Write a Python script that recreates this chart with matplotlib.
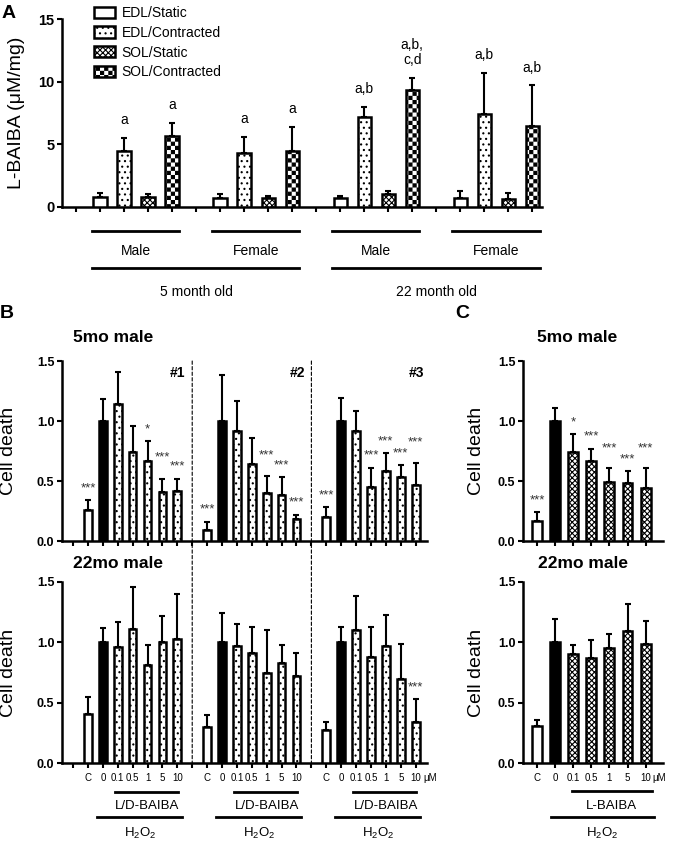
import numpy as np
import matplotlib
matplotlib.use("Agg")
import matplotlib.pyplot as plt
import matplotlib.hatch as mhatch
from matplotlib.path import Path
from matplotlib.patches import Patch, ConnectionPatch

# ---------------- data ----------------
# Panel A: L-BAIBA (uM/mg); groups = 5mo male, 5mo female, 22mo male, 22mo female
a_sexes = ["Male", "Female", "Male", "Female"]
a_ages = ["5 month old", "22 month old"]
a_series = ["EDL/Static", "EDL/Contracted", "SOL/Static", "SOL/Contracted"]
edl_static = [0.8, 0.7, 0.7, 0.7]
edl_static_err = [0.35, 0.3, 0.15, 0.6]
edl_contr = [4.5, 4.3, 7.2, 7.4]
edl_contr_err = [1.0, 1.3, 0.8, 3.3]
sol_static = [0.8, 0.7, 1.0, 0.6]
sol_static_err = [0.2, 0.2, 0.25, 0.5]
sol_contr = [5.7, 4.5, 9.3, 6.5]
sol_contr_err = [1.0, 1.9, 1.0, 3.2]
edl_contr_sig = ["a", "a", "a,b", "a,b"]
sol_contr_sig = ["a", "a", "a,b,\nc,d", "a,b"]

# Panels B and C: cell death
doses = ["C", "0", "0.1", "0.5", "1", "5", "10"]

# B, 5mo male, experiments #1-#3
young_exp1 = [0.26, 1.0, 1.14, 0.74, 0.67, 0.41, 0.42]
young_exp1_err = [0.08, 0.18, 0.27, 0.22, 0.16, 0.11, 0.10]
young_exp1_sig = ["***", "", "", "", "*", "***", "***"]
young_exp2 = [0.09, 1.0, 0.92, 0.64, 0.40, 0.38, 0.18]
young_exp2_err = [0.07, 0.38, 0.25, 0.22, 0.14, 0.15, 0.04]
young_exp2_sig = ["***", "", "", "", "***", "***", "***"]
young_exp3 = [0.20, 1.0, 0.92, 0.45, 0.58, 0.53, 0.47]
young_exp3_err = [0.08, 0.19, 0.16, 0.16, 0.15, 0.10, 0.18]
young_exp3_sig = ["***", "", "", "***", "***", "***", "***"]

# B, 22mo male, experiments #1-#3
old_exp1 = [0.41, 1.0, 0.96, 1.11, 0.81, 1.0, 1.03]
old_exp1_err = [0.14, 0.12, 0.21, 0.35, 0.17, 0.22, 0.37]
old_exp2 = [0.30, 1.0, 0.97, 0.91, 0.75, 0.83, 0.72]
old_exp2_err = [0.10, 0.24, 0.18, 0.22, 0.35, 0.15, 0.19]
old_exp3 = [0.27, 1.0, 1.10, 0.88, 0.97, 0.70, 0.34]
old_exp3_err = [0.07, 0.13, 0.28, 0.25, 0.26, 0.29, 0.19]
old_exp3_sig = ["", "", "", "", "", "", "***"]

# C, L-BAIBA only
c_young = [0.17, 1.0, 0.74, 0.67, 0.49, 0.48, 0.44]
c_young_err = [0.07, 0.11, 0.15, 0.10, 0.12, 0.10, 0.17]
c_young_sig = ["***", "", "*", "***", "***", "***", "***"]
c_old = [0.31, 1.0, 0.90, 0.87, 0.95, 1.09, 0.99]
c_old_err = [0.05, 0.19, 0.08, 0.15, 0.12, 0.23, 0.19]

# which star labels are lifted a little so neighbours don't collide
stagger_exp1 = [0, 0, 0, 0, 0, 1, 0]
stagger_exp2 = [0, 0, 0, 0, 1, 0, 0]
stagger_exp3 = [0, 0, 0, 0, 0, 0, 1]
stagger_c = [0, 0, 0, 0, 1, 0, 1]
no_stagger = [0] * 7


# checkerboard fill, used in place of the 'O' (large circle) hatch
class CheckerHatch(mhatch.HatchPatternBase):
    def __init__(self, hatch, density):
        n = hatch.count("O") * density
        self.n = n - n % 2
        self.num_vertices = (self.n * self.n // 2) * 5

    def set_vertices_and_codes(self, vertices, codes):
        n = self.n
        s = 1.0 / n
        d = 0.13 * s
        sq = np.array([[d, d], [s - d, d], [s - d, s - d], [d, s - d], [d, d]])
        cells = [(i, j) for i in range(n) for j in range(n) if (i + j) % 2 == 0]
        vertices[:] = np.concatenate([sq + [i * s, j * s] for i, j in cells])
        codes[:] = np.tile([Path.MOVETO, Path.LINETO, Path.LINETO,
                            Path.LINETO, Path.CLOSEPOLY], len(cells))


mhatch._hatch_types = [CheckerHatch if t is mhatch.LargeCircles else t
                       for t in mhatch._hatch_types]

plt.rcParams["font.family"] = ["Liberation Sans", "DejaVu Sans"]
plt.rcParams["mathtext.fontset"] = "custom"
plt.rcParams["mathtext.rm"] = "Liberation Sans"
plt.rcParams["hatch.linewidth"] = 0.8

W, H = 673, 842
fig = plt.figure(figsize=(W / 100, H / 100), dpi=100)
fig.patch.set_facecolor("white")

DOTS = "..."
CROSS = "xxxxxx"
CHECK = "OOOO"


def add_ax(left, top, right, bottom):
    # axes box given in pixels of the final picture
    return fig.add_axes([left / W, 1 - bottom / H, (right - left) / W, (bottom - top) / H])


def style_ax(ax, xlim, yticks, fmt, nticks, ysize):
    for s in ["top", "right"]:
        ax.spines[s].set_visible(False)
    for s in ["left", "bottom"]:
        ax.spines[s].set_linewidth(1.8)
    ax.set_xlim(*xlim)
    ax.set_ylim(yticks[0], yticks[-1])
    ax.set_yticks(yticks, labels=[fmt % t for t in yticks], fontweight="bold", fontsize=ysize)
    ax.set_xticks(np.arange(nticks), labels=[""] * nticks)
    ax.tick_params(width=1.5, length=3.5)
    ax.tick_params(axis="y", pad=2)
    ax.set_facecolor("none")


def draw_bars(ax, x, means, errs, hatches, colors, width):
    for xi, m, h, c in zip(x, means, hatches, colors):
        ax.bar(xi, m, width, color=c, edgecolor="black", linewidth=1.8, hatch=h, zorder=3)
    ax.errorbar(x, means, yerr=[np.zeros(len(errs)), errs], fmt="none", ecolor="black",
                elinewidth=1.5, capsize=2.5, capthick=1.5, zorder=2)


def draw_stars(ax, x, means, errs, sigs, stagger, gap, lift):
    for xi, m, e, s, st in zip(x, means, errs, sigs, stagger):
        if s:
            yc = m + e + gap + lift * st
            ax.text(xi, yc, s, ha="center", va="center", fontsize=9.5, color="#333333",
                    clip_on=False, zorder=5)


# ---------------- Panel A ----------------
axA = add_ax(62, 19, 542, 207)
style_ax(axA, (-0.58, 19.4), [0, 5, 10, 15], "%d", 20, 10.5)

a_means = [edl_static, edl_contr, sol_static, sol_contr]
a_errs = [edl_static_err, edl_contr_err, sol_static_err, sol_contr_err]
a_hatch = ["", DOTS, CROSS, CHECK]
for k in range(4):
    x = np.arange(4) * 5 + 1 + k
    draw_bars(axA, x, a_means[k], a_errs[k], [a_hatch[k]] * 4, ["white"] * 4, 0.55)

for k, labels in [(1, edl_contr_sig), (3, sol_contr_sig)]:
    x = np.arange(4) * 5 + 1 + k
    for xi, m, e, lab in zip(x, a_means[k], a_errs[k], labels):
        axA.text(xi, m + e + 0.85, lab, ha="center", va="bottom", fontsize=10,
                 linespacing=1.15, clip_on=False)

handles = [Patch(facecolor="white", edgecolor="black", linewidth=1.8, hatch=h, label=l)
           for h, l in zip(a_hatch, a_series)]
axA.legend(handles=handles, loc="upper left", bbox_to_anchor=(94 / W, 1 - 6 / H),
           bbox_transform=fig.transFigure, frameon=False, fontsize=10, borderpad=0,
           borderaxespad=0, handlelength=1.5, handleheight=0.85, handletextpad=0.5,
           labelspacing=0.42)

trA = axA.get_xaxis_transform()
for g, sex in enumerate(a_sexes):
    xs = 5 * g + 1 + np.arange(4)
    axA.plot([xs[0] - 0.33, xs[-1] + 0.3], [-0.128, -0.128], transform=trA,
             clip_on=False, color="black", lw=2)
    axA.text(xs.mean(), -0.234, sex, transform=trA, ha="center", va="center", fontsize=10)
for a, age in enumerate(a_ages):
    xs = 10 * a + 1 + np.arange(9)
    axA.plot([xs[0] - 0.33, xs[-1] + 0.3], [-0.324, -0.324], transform=trA,
             clip_on=False, color="black", lw=2)
    axA.text(xs.mean(), -0.452, age, transform=trA, ha="center", va="center", fontsize=10)

axA.set_ylabel("L-BAIBA (\u03bcM/mg)", fontsize=14)
axA.yaxis.set_label_coords(-0.077, 0.5)

# ---------------- Panel B ----------------
b_colors = ["white", "black"] + ["white"] * 5
b_hatch = ["", ""] + [DOTS] * 5
axBt = add_ax(62, 361, 427, 541)
axBb = add_ax(62, 582, 427, 763)
for ax in (axBt, axBb):
    style_ax(ax, (-0.74, 23.76), [0.0, 0.5, 1.0, 1.5], "%.1f", 24, 9)
    ax.set_ylabel("Cell death", fontsize=14)
    ax.yaxis.set_label_coords(-0.123, 0.5)

young = [(young_exp1, young_exp1_err, young_exp1_sig, stagger_exp1),
         (young_exp2, young_exp2_err, young_exp2_sig, stagger_exp2),
         (young_exp3, young_exp3_err, young_exp3_sig, stagger_exp3)]
old = [(old_exp1, old_exp1_err, [""] * 7, no_stagger),
       (old_exp2, old_exp2_err, [""] * 7, no_stagger),
       (old_exp3, old_exp3_err, old_exp3_sig, no_stagger)]
for ax, rows in [(axBt, young), (axBb, old)]:
    for s, (m, e, sig, st) in enumerate(rows):
        x = 8 * s + 1 + np.arange(7)
        draw_bars(ax, x, m, e, b_hatch, b_colors, 0.52)
        draw_stars(ax, x, m, e, sig, st, 0.1, 0.075)

for s in range(3):
    axBt.text(8 * s + 7.55, 1.40, "#%d" % (s + 1), ha="right", va="center",
              fontsize=10, fontweight="bold")
for s in (1, 2):
    con = ConnectionPatch(xyA=(8 * s, 1.5), coordsA=axBt.transData,
                          xyB=(8 * s, 0), coordsB=axBb.transData,
                          color="black", lw=0.8, linestyle=(0, (3, 2)))
    fig.add_artist(con)

b_ticklabels = []
for s in range(3):
    b_ticklabels += [""] + doses
axBb.set_xticks(np.arange(24), labels=b_ticklabels, fontsize=7)
axBb.tick_params(axis="x", pad=4)
axBb.annotate("\u03bcM", xy=(23.5, 0), xycoords=("data", "axes fraction"),
              xytext=(0, -7.5), textcoords="offset points", ha="left", va="top",
              fontsize=7, annotation_clip=False)

trB = axBb.get_xaxis_transform()
for s in range(3):
    zero = 8 * s + 2
    dose_x = 8 * s + 3 + np.arange(5)
    axBb.plot([dose_x[0] - 0.2, dose_x[-1] + 0.05], [-0.16, -0.16], transform=trB,
              clip_on=False, color="black", lw=2)
    axBb.text(dose_x.mean(), -0.238, "L/D-BAIBA", transform=trB, ha="center",
              va="center", fontsize=9.5)
    axBb.plot([zero - 0.4, dose_x[-1] + 0.3], [-0.298, -0.298], transform=trB,
              clip_on=False, color="black", lw=2)
    axBb.text((zero + dose_x[-1]) / 2, -0.387, r"H$_2$O$_2$", transform=trB,
              ha="center", va="center", fontsize=9.5)

# ---------------- Panel C ----------------
c_hatch = ["", ""] + [CROSS] * 5
axCt = add_ax(523, 361, 663, 541)
axCb = add_ax(523, 582, 663, 763)
for ax in (axCt, axCb):
    style_ax(ax, (-0.77, 6.96), [0.0, 0.5, 1.0, 1.5], "%.1f", 7, 9)
    ax.set_ylabel("Cell death", fontsize=14)
    ax.yaxis.set_label_coords(-0.27, 0.5)

xc = np.arange(7)
draw_bars(axCt, xc, c_young, c_young_err, c_hatch, b_colors, 0.55)
draw_stars(axCt, xc, c_young, c_young_err, c_young_sig, stagger_c, 0.1, 0.06)
draw_bars(axCb, xc, c_old, c_old_err, c_hatch, b_colors, 0.55)

axCb.set_xticks(xc, labels=doses, fontsize=7)
axCb.tick_params(axis="x", pad=4)
axCb.annotate("\u03bcM", xy=(6.35, 0), xycoords=("data", "axes fraction"),
              xytext=(0, -7.5), textcoords="offset points", ha="left", va="top",
              fontsize=7, annotation_clip=False)
trC = axCb.get_xaxis_transform()
axCb.plot([xc[2] - 0.07, xc[-1] + 0.35], [-0.155, -0.155], transform=trC,
          clip_on=False, color="black", lw=2)
axCb.text((xc[2] + xc[-1] + 0.28) / 2, -0.238, "L-BAIBA", transform=trC, ha="center",
          va="center", fontsize=9.5)
axCb.plot([xc[1] - 0.23, xc[-1] + 0.46], [-0.298, -0.298], transform=trC,
          clip_on=False, color="black", lw=2)
axCb.text((xc[1] + xc[-1] + 0.23) / 2, -0.387, r"H$_2$O$_2$", transform=trC,
          ha="center", va="center", fontsize=9.5)

# ---------------- titles and panel letters ----------------
def fig_text(px, py, s, **kw):
    fig.text(px / W, 1 - py / H, s, ha="center", va="center", **kw)


fig_text(113, 337, "5mo male", fontsize=12.5, fontweight="bold")
fig_text(118, 563, "22mo male", fontsize=12.5, fontweight="bold")
fig_text(577, 337, "5mo male", fontsize=12.5, fontweight="bold")
fig_text(583, 563, "22mo male", fontsize=12.5, fontweight="bold")
fig_text(9, 13, "A", fontsize=14, fontweight="bold")
fig_text(7, 313, "B", fontsize=14, fontweight="bold")
fig_text(462, 313, "C", fontsize=14, fontweight="bold")

fig.savefig("out.png", dpi=100, facecolor="white")
